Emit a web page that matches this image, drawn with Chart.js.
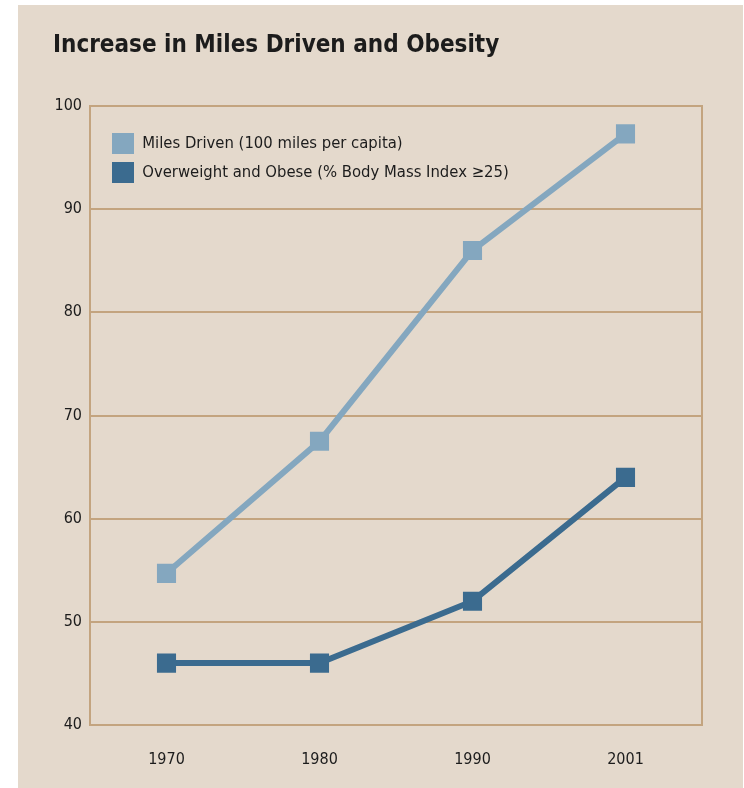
<!DOCTYPE html>
<html>
<head>
<meta charset="utf-8">
<title>Increase in Miles Driven and Obesity</title>
<script src="https://cdn.jsdelivr.net/npm/chart.js@4"></script>
<style>
  html, body { margin: 0; padding: 0; background: #ffffff; }
  canvas { display: block; }
</style>
</head>
<body>
<canvas id="chart" width="744" height="788"></canvas>
<script>
const years = ['1970', '1980', '1990', '2001']
const milesDriven = [54.7, 67.5, 86, 97.3]     // 100 miles per capita
const overweight = [46, 46, 52, 64]            // % with BMI >= 25

const PANEL = '#e4d9cc'
const RULE = '#c3a47f'
const LIGHT = '#84a7bf'
const DARK = '#3b6b8f'
const INK = '#1c1c1c'
const FONT = "'Liberation Sans Narrow', 'DejaVu Sans Condensed', 'Arial Narrow', sans-serif"

// beige card behind everything
const panel = {
  id: 'panel',
  beforeDraw(chart) {
    const ctx = chart.ctx
    ctx.save()
    ctx.fillStyle = '#ffffff'
    ctx.fillRect(0, 0, chart.width, chart.height)
    ctx.fillStyle = PANEL
    ctx.fillRect(18, 5, 725, chart.height - 5)
    ctx.restore()
  }
}

// nudge the in-plot legend away from the top-left corner
const legendSpot = {
  id: 'legendSpot',
  afterLayout(chart) {
    const lg = chart.legend
    if (!lg) return
    lg.left = chart.chartArea.left + 14
    lg.top = chart.chartArea.top + 19
  }
}

new Chart(document.getElementById('chart'), {
  type: 'line',
  data: {
    labels: years,
    datasets: [{
      label: 'Miles Driven (100 miles per capita)',
      data: milesDriven,
      borderColor: LIGHT,
      backgroundColor: LIGHT,
      borderWidth: 6,
      pointStyle: 'rect',
      pointRadius: 13.5,
      pointBorderWidth: 0,
      pointBackgroundColor: LIGHT,
      tension: 0
    }, {
      label: 'Overweight and Obese (% Body Mass Index \u226525)',
      data: overweight,
      borderColor: DARK,
      backgroundColor: DARK,
      borderWidth: 6,
      pointStyle: 'rect',
      pointRadius: 13.5,
      pointBorderWidth: 0,
      pointBackgroundColor: DARK,
      tension: 0
    }]
  },
  options: {
    responsive: false,
    animation: false,
    devicePixelRatio: 1,
    layout: { padding: { left: 53, right: 42, top: 0, bottom: 0 } },
    plugins: {
      title: {
        display: true,
        text: 'Increase in Miles Driven and Obesity',
        align: 'start',
        color: INK,
        font: { family: FONT, size: 24, weight: 'bold', lineHeight: 1.2 },
        padding: { top: 31, bottom: 46.2 }
      },
      legend: {
        position: 'chartArea',
        align: 'start',
        labels: {
          boxWidth: 22,
          boxHeight: 21,
          padding: 8,
          color: INK,
          font: { family: FONT, size: 16.5 },
          generateLabels: chart =>
            Chart.defaults.plugins.legend.labels.generateLabels(chart)
              .map(item => Object.assign(item, { lineWidth: 0 }))
        }
      },
      tooltip: { enabled: false }
    },
    scales: {
      x: {
        offset: true,
        grid: { display: false },
        border: { display: true, color: RULE, width: 2 },
        ticks: { color: INK, padding: 17, font: { family: FONT, size: 16 } },
        afterFit: s => { s.height = 63 }
      },
      y: {
        min: 40,
        max: 100,
        grid: { color: RULE, lineWidth: 2, drawTicks: false },
        border: { display: true, color: RULE, width: 2 },
        ticks: { stepSize: 10, color: INK, padding: 8, font: { family: FONT, size: 16 } },
        afterFit: s => { s.width = 37 }
      },
      // plain rule down the right edge of the plot
      yRight: {
        position: 'right',
        grid: { display: false },
        ticks: { display: false },
        border: { display: true, color: RULE, width: 2 },
        afterFit: s => { s.width = 0 }
      }
    }
  },
  plugins: [panel, legendSpot]
})
</script>
</body>
</html>
